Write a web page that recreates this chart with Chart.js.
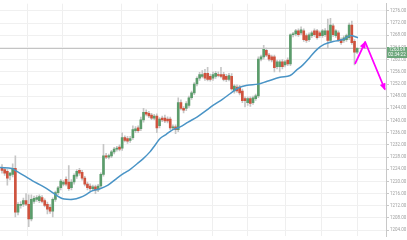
<!DOCTYPE html>
<html><head><meta charset="utf-8">
<script src="https://cdn.jsdelivr.net/npm/chart.js@4"></script>
<style>html,body{margin:0;padding:0;background:#fff}#wrap{width:407px;height:240px;position:relative}</style>
</head><body><div id="wrap"><canvas id="c"></canvas></div>
<script>
const opens=[1224.6,1223.9,1223.3,1222.0,1222.3,1224.3,1209.9,1212.1,1212.5,1213.7,
1212.5,1207.7,1213.4,1214.1,1213.7,1214.7,1213.7,1212.5,1211.5,1210.2,
1214.1,1216.3,1217.9,1219.1,1220.7,1219.8,1217.9,1219.8,1221.7,1223.6,
1223.0,1221.1,1219.1,1218.5,1217.6,1218.2,1217.2,1218.5,1222.3,1228.4,
1228.0,1228.4,1229.7,1230.6,1231.3,1230.9,1234.4,1234.1,1233.5,1234.4,
1236.7,1237.6,1237.3,1240.2,1242.7,1242.4,1241.8,1240.8,1241.5,1238.3,
1240.8,1240.8,1240.5,1240.5,1237.6,1237.9,1237.0,1245.9,1244.0,1244.0,
1245.0,1247.5,1249.1,1252.0,1253.9,1254.5,1255.5,1255.5,1254.5,1253.9,
1254.5,1255.1,1255.1,1255.1,1254.5,1253.5,1254.5,1249.7,1251.0,1251.0,
1249.7,1247.2,1245.9,1247.2,1245.9,1247.2,1248.1,1260.2,1260.9,1263.1,
1261.5,1260.9,1260.9,1257.7,1257.7,1259.3,1258.3,1259.9,1258.6,1268.2,
1268.5,1269.5,1268.8,1269.5,1267.9,1266.6,1267.9,1269.5,1269.5,1268.8,
1267.9,1268.2,1269.5,1266.3,1271.1,1267.9,1268.8,1266.6,1266.3,1266.6,
1267.2,1271.4,1266.0,1262.5];
const highs=[1225.5,1224.6,1223.9,1223.0,1225.8,1228.4,1213.0,1213.4,1214.5,1216.0,
1215.6,1215.6,1215.2,1215.3,1215.6,1215.3,1214.3,1213.2,1212.4,1214.6,
1216.8,1218.4,1220.7,1220.3,1221.5,1225.2,1220.6,1222.5,1223.9,1224.3,
1223.6,1221.7,1219.8,1219.2,1218.8,1218.8,1219.0,1222.8,1232.2,1229.2,
1229.0,1230.2,1231.2,1231.5,1232.0,1236.0,1235.0,1234.8,1234.8,1238.3,
1238.0,1238.3,1241.1,1244.0,1243.5,1243.0,1242.4,1242.0,1242.2,1241.0,
1241.5,1241.8,1241.2,1241.1,1238.6,1238.6,1247.5,1246.8,1244.6,1246.2,
1248.0,1249.7,1252.5,1254.4,1255.8,1256.4,1256.8,1257.5,1255.3,1256.0,
1256.2,1256.0,1257.5,1255.8,1255.2,1255.5,1255.4,1251.8,1251.7,1251.6,
1250.3,1247.8,1247.8,1247.8,1248.0,1248.7,1260.9,1261.5,1264.7,1263.8,
1262.1,1261.5,1261.5,1259.9,1259.9,1260.0,1259.8,1260.6,1268.5,1269.0,
1270.0,1270.1,1270.8,1270.1,1268.5,1268.8,1269.4,1270.1,1270.0,1269.4,
1270.0,1270.2,1273.3,1273.6,1271.8,1269.9,1269.5,1267.2,1267.8,1268.4,
1272.0,1272.7,1266.6,1264.0];
const lows=[1222.7,1222.0,1218.8,1220.5,1221.5,1208.3,1209.0,1211.2,1211.8,1212.0,
1205.1,1207.0,1212.8,1213.4,1213.0,1212.9,1211.6,1209.3,1209.5,1208.3,
1213.4,1215.6,1217.2,1218.5,1218.5,1217.0,1217.2,1219.1,1221.0,1222.0,
1220.4,1218.5,1217.2,1216.9,1216.9,1216.0,1216.6,1218.0,1221.7,1227.5,
1227.4,1227.8,1229.0,1229.9,1230.0,1230.2,1233.0,1232.5,1232.8,1233.8,
1236.0,1236.0,1236.7,1239.5,1241.5,1240.9,1240.3,1240.2,1236.0,1237.6,
1239.6,1239.3,1239.2,1237.0,1237.0,1235.7,1236.3,1243.5,1242.5,1243.2,
1244.3,1246.9,1248.5,1251.4,1253.2,1254.0,1253.2,1253.0,1252.9,1253.2,
1253.8,1254.3,1254.0,1253.0,1252.8,1253.0,1250.0,1249.0,1249.2,1248.4,
1245.9,1244.5,1245.0,1244.6,1245.3,1246.6,1247.5,1259.6,1260.2,1261.0,
1259.6,1259.3,1256.0,1257.0,1256.0,1257.0,1257.6,1258.0,1258.0,1267.5,
1267.8,1267.6,1268.2,1266.0,1265.7,1266.0,1267.2,1267.6,1266.7,1267.3,
1267.3,1267.6,1263.7,1265.6,1267.6,1267.3,1266.0,1265.0,1265.7,1266.0,
1266.6,1265.0,1258.3,1262.0];
const closes=[1223.6,1222.7,1221.1,1222.7,1224.3,1209.9,1212.5,1212.5,1213.7,1212.5,
1207.7,1214.1,1214.4,1214.7,1215.0,1213.4,1212.1,1210.9,1210.2,1214.1,
1216.3,1217.9,1220.1,1219.8,1219.1,1217.6,1219.8,1222.0,1223.3,1222.7,
1221.1,1219.1,1217.9,1217.6,1218.2,1217.2,1218.5,1222.3,1228.4,1228.0,
1228.5,1229.7,1230.6,1230.9,1230.6,1234.4,1233.5,1233.2,1234.1,1237.0,
1237.3,1236.7,1240.2,1242.7,1242.1,1241.5,1240.8,1241.5,1237.6,1240.5,
1240.2,1239.9,1239.9,1237.6,1237.9,1237.0,1245.9,1244.0,1243.4,1245.6,
1247.5,1249.1,1252.0,1253.9,1255.1,1255.1,1253.9,1253.5,1253.5,1255.1,
1255.5,1254.8,1254.5,1253.5,1253.5,1254.8,1250.4,1251.3,1249.7,1249.1,
1246.5,1246.5,1247.2,1245.6,1247.5,1248.1,1260.2,1260.9,1263.4,1261.5,
1260.2,1259.9,1257.4,1259.3,1259.3,1257.7,1259.3,1258.6,1268.2,1268.5,
1269.5,1268.2,1269.8,1266.6,1266.3,1268.2,1268.8,1268.2,1267.2,1267.9,
1269.5,1269.5,1266.3,1271.4,1268.2,1269.5,1266.6,1265.6,1267.2,1267.9,
1271.4,1265.6,1262.5,1263.69];
// moving average line (candle index, price)
const maX=[-0.75,3.75,5.6,8.6,11.6,15.0,18.0,20.6,22.5,24.3,26.6,29.2,31.5,33.7,36.7,39.7,43.1,45.7,47.9,50.6,52.8,55.4,57.3,59.2,61.4,64.0,66.7,69.7,73.0,76.0,79.0,82.4,85.4,88.4,91.8,95.9,99.3,104.1,107.9,110.1,112.7,115.4,118.0,120.6,124.0,127.7,130.3,133.3];
const maY=[1224.6,1224.25,1223.3,1221.7,1220.1,1218.5,1216.9,1215.3,1214.4,1214.1,1214.1,1214.7,1215.65,1216.9,1217.6,1218.8,1221.1,1222.7,1223.9,1225.8,1227.4,1229.7,1231.9,1234.1,1235.4,1237.0,1237.9,1239.5,1241.1,1243.0,1244.95,1246.9,1248.8,1250.7,1251.6,1251.96,1252.9,1254.2,1254.8,1256.4,1258.3,1260.9,1263.4,1265.0,1266.0,1266.6,1267.9,1267.2];
const yTicks=[1204,1208,1212,1216,1220,1224,1228,1232,1236,1240,1244,1248,1252,1256,1260,1264,1268,1272,1276];
const xGridIdx=[9.7,22.8,44.9,58.1,79.0,92.1,106.0,119.8,133.3];
const arrowX=[132.2,136.0,143.4];
const arrowY=[1258.6,1265.8,1250.2];
const lastPrice=1263.69;
const countdown='02:34:22';
const yMin=1201.96, yMax=1278.39, xMin=-0.75, xMax=143.8;

const UP='#5b9c6b', DOWN='#cf533e';
const bodyColors=opens.map((o,i)=>closes[i]>=o?UP:DOWN);

function head(ctx,x0,y0,x1,y1,len,w){
  const a=Math.atan2(y1-y0,x1-x0),c=Math.cos(a),s=Math.sin(a);
  ctx.beginPath();ctx.moveTo(x1+c*1,y1+s*1);
  ctx.lineTo(x1-len*c+w*s,y1-len*s-w*c);
  ctx.lineTo(x1-len*c-w*s,y1-len*s+w*c);
  ctx.closePath();ctx.fill();
}
const overlay={id:'overlay',
  beforeDatasetsDraw(chart){
    const {ctx,chartArea:a,scales:{y}}=chart;
    const py=Math.round(y.getPixelForValue(lastPrice))+0.5;
    ctx.save();ctx.strokeStyle='#c4c4c4';ctx.lineWidth=1;
    ctx.beginPath();ctx.moveTo(a.left,py);ctx.lineTo(a.right,py);ctx.stroke();ctx.restore();
  },
  afterDatasetsDraw(chart){
    const {ctx,scales:{x,y}}=chart;
    const p=arrowX.map((v,i)=>[x.getPixelForValue(v),y.getPixelForValue(arrowY[i])]);
    ctx.save();ctx.strokeStyle='#ff00ff';ctx.fillStyle='#ff00ff';ctx.lineWidth=1.8;ctx.lineJoin='round';
    ctx.beginPath();ctx.moveTo(p[0][0],p[0][1]);ctx.lineTo(p[1][0],p[1][1]);ctx.lineTo(p[2][0],p[2][1]);ctx.stroke();
    head(ctx,p[0][0],p[0][1],p[1][0],p[1][1],6,3);
    head(ctx,p[1][0],p[1][1],p[2][0],p[2][1],6,3);
    ctx.restore();
  },
  afterDraw(chart){
    const {ctx,chartArea:a,scales:{y}}=chart;
    const py=y.getPixelForValue(lastPrice);
    const top=Math.round(py-1.5);
    ctx.save();ctx.fillStyle='#6ba67b';ctx.fillRect(a.right+1,top,20,11);
    ctx.fillStyle='#fff';ctx.font='4.5px Roboto';ctx.textAlign='center';ctx.textBaseline='middle';
    ctx.fillText(lastPrice.toFixed(2),a.right+11,top+3);
    ctx.fillText(countdown,a.right+11,top+8.2);
    ctx.restore();
  }
};

new Chart(document.getElementById('c'),{
  type:'bar',
  data:{datasets:[
    {type:'line',data:maX.map((v,i)=>({x:v,y:maY[i]})),borderColor:'#4a94c6',borderWidth:1.5,pointRadius:0,tension:0.35,order:0},
    {type:'bar',data:opens.map((o,i)=>({x:i,y:[o,closes[i]]})),backgroundColor:bodyColors,barThickness:2,minBarLength:1,grouped:false,order:1},
    {type:'bar',data:lows.map((l,i)=>({x:i,y:[l,highs[i]]})),backgroundColor:'#c6c6c6',barThickness:1,grouped:false,order:2}
  ]},
  options:{
    animation:false,responsive:true,maintainAspectRatio:false,devicePixelRatio:1,
    layout:{padding:0},
    plugins:{legend:{display:false},tooltip:{enabled:false}},
    scales:{
      x:{type:'linear',min:xMin,max:xMax,offset:false,
        ticks:{display:false},grid:{color:'#efefef',drawTicks:false,offset:false},border:{display:false},
        afterBuildTicks:s=>{s.ticks=xGridIdx.map(v=>({value:v}));},
        afterFit:s=>{s.height=0;}},
      y:{position:'right',min:yMin,max:yMax,beginAtZero:false,
        afterBuildTicks:s=>{s.ticks=yTicks.map(v=>({value:v}));},
        ticks:{font:{size:4.5,family:'Roboto'},color:'#a0a0a0',padding:1,callback:v=>Number(v).toFixed(2)},
        grid:{color:'#f0f0f0',tickLength:3,tickColor:'#c8c8c8'},border:{color:'#c8c8c8'},
        afterFit:s=>{s.width=21;}}
    }
  },
  plugins:[overlay]
});
</script></body></html>
